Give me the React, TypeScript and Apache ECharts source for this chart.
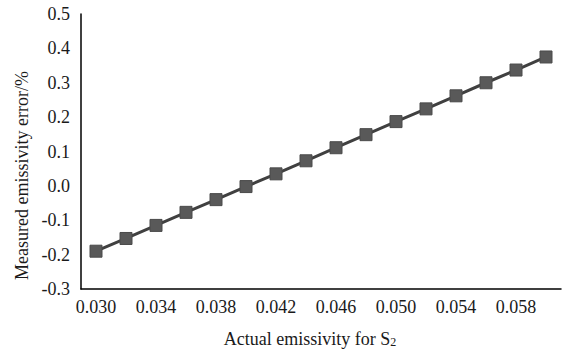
import React, { useEffect, useRef } from "react";
import * as echarts from "echarts";

const categories = ["0.030","0.032","0.034","0.036","0.038","0.040","0.042","0.044","0.046","0.048","0.050","0.052","0.054","0.056","0.058","0.060"];
const errorValues = [-0.190,-0.153,-0.115,-0.077,-0.040,-0.002,0.035,0.073,0.111,0.149,0.187,0.224,0.262,0.300,0.337,0.375];
const yTicks = { min: -0.3, max: 0.5, interval: 0.1 };

export default function App() {
  const ref = useRef<HTMLDivElement>(null);
  useEffect(() => {
    if (!ref.current) return;
    const chart = echarts.init(ref.current, null, { renderer: "svg" });
    const font = "'Liberation Serif', 'Times New Roman', serif";
    chart.setOption({
      animation: false,
      backgroundColor: "#ffffff",
      grid: { left: 81, right: 4, top: 14, bottom: 59 },
      xAxis: {
        type: "category",
        data: categories,
        boundaryGap: true,
        axisLine: { onZero: false, lineStyle: { color: "#000", width: 1.5 } },
        axisTick: { show: false },
        axisLabel: { interval: 1, color: "#1a1a1a", fontFamily: font, fontSize: 18, margin: 9 },
        name: "{a|Actual emissivity for S}{b|2}",
        nameLocation: "middle",
        nameGap: 40,
        nameTextStyle: {
          padding: [0, 22, 0, 0],
          rich: {
            a: { fontFamily: font, fontSize: 18, color: "#1a1a1a" },
            b: { fontFamily: font, fontSize: 12, color: "#1a1a1a", verticalAlign: "bottom", padding: [7, 0, 0, 0] },
          },
        },
      },
      yAxis: {
        type: "value",
        min: yTicks.min,
        max: yTicks.max,
        interval: yTicks.interval,
        axisLine: { show: true, lineStyle: { color: "#000", width: 1.5 } },
        axisTick: { show: false },
        splitLine: { show: false },
        axisLabel: {
          color: "#1a1a1a",
          fontFamily: font,
          fontSize: 18,
          margin: 11,
          formatter: (v: number) => v.toFixed(1),
        },
        name: "Measured emissivity error/%",
        nameLocation: "middle",
        nameGap: 50,
        nameTextStyle: { fontFamily: font, fontSize: 18, color: "#1a1a1a", padding: [0, 48, 0, 0] },
      },
      series: [
        {
          type: "line",
          data: errorValues,
          symbol: "rect",
          symbolSize: 12,
          lineStyle: { color: "#404040", width: 3 },
          itemStyle: { color: "#595959", borderColor: "#4a4a4a", borderWidth: 1 },
        },
      ],
    });
    return () => chart.dispose();
  }, []);
  return <div ref={ref} style={{ width: 565, height: 353, position: "absolute", left: 0, top: 0 }} />;
}
